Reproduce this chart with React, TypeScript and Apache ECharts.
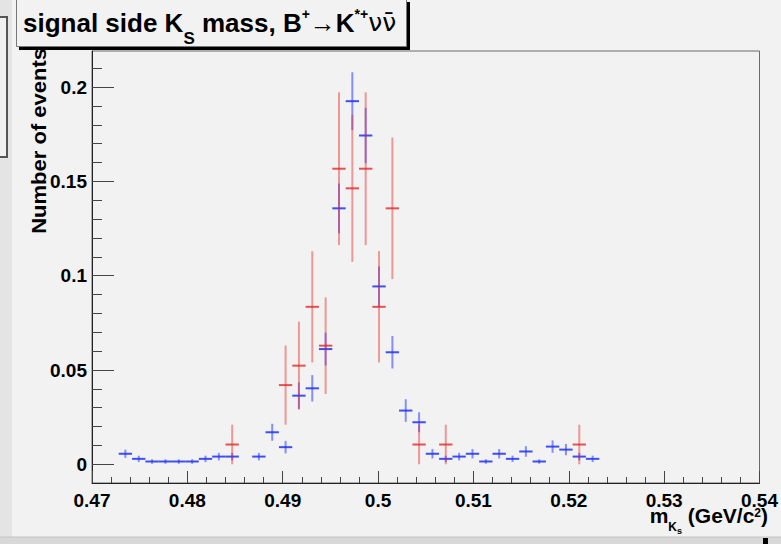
import React, { useEffect, useRef } from "react";
import * as echarts from "echarts";

// ---- data ----
const BIN_WIDTH = 0.0014;
const X_MIN = 0.47;
const X_MAX = 0.54;
const Y_MIN = -0.0099;
const Y_MAX = 0.2191;
const Y_MAJOR = [0, 0.05, 0.1, 0.15, 0.2];
const Y_MINOR = [0.01, 0.02, 0.03, 0.04, 0.06, 0.07, 0.08, 0.09, 0.11, 0.12, 0.13, 0.14, 0.16, 0.17, 0.18, 0.19, 0.21];

const blueX = [
  0.4735, 0.4749, 0.4763, 0.4777, 0.4791, 0.4805, 0.4819, 0.4833, 0.4847,
  0.4875, 0.4889, 0.4903, 0.4917, 0.4931, 0.4945, 0.4959, 0.4973, 0.4987,
  0.5001, 0.5015, 0.5029, 0.5043, 0.5057, 0.5071, 0.5085, 0.5099, 0.5113,
  0.5127, 0.5141, 0.5155, 0.5169, 0.5183, 0.5197, 0.5211, 0.5225,
];
const blueY = [
  0.0056, 0.0029, 0.0015, 0.0015, 0.0015, 0.0015, 0.0029, 0.0041, 0.0041,
  0.0041, 0.017, 0.0091, 0.0364, 0.0403, 0.0611, 0.1357, 0.1925, 0.1743,
  0.0943, 0.0594, 0.0285, 0.0223, 0.0056, 0.0029, 0.0041, 0.0056, 0.0015,
  0.0056, 0.0029, 0.0068, 0.0015, 0.0094, 0.0078, 0.0041, 0.0029,
];
const blueErr = [
  0.0022, 0.0017, 0.0012, 0.0012, 0.0012, 0.0012, 0.0017, 0.002, 0.002,
  0.002, 0.0045, 0.0033, 0.007, 0.007, 0.0087, 0.0132, 0.0153, 0.0147,
  0.0106, 0.0086, 0.006, 0.0053, 0.0025, 0.0017, 0.002, 0.0025, 0.0012,
  0.0025, 0.0017, 0.0028, 0.0012, 0.0033, 0.003, 0.002, 0.0017,
];

const redX = [0.4847, 0.4903, 0.4917, 0.4931, 0.4945, 0.4959, 0.4973, 0.4987, 0.5001, 0.5015, 0.5043, 0.5071, 0.5211];
const redY = [0.0105, 0.042, 0.0523, 0.0835, 0.0629, 0.1567, 0.1463, 0.1567, 0.0835, 0.1357, 0.0105, 0.0105, 0.0105];
const redErr = [0.0105, 0.021, 0.0233, 0.0295, 0.0256, 0.0405, 0.039, 0.0405, 0.0295, 0.0375, 0.0105, 0.0105, 0.0105];

const FONT = "'Liberation Sans', Arial, Helvetica, sans-serif";

function errorBarSeries(name: string, xs: number[], ys: number[], es: number[], vCol: string, hCol: string) {
  return {
    type: "custom",
    name,
    coordinateSystem: "cartesian2d",
    xAxisIndex: 0,
    yAxisIndex: 0,
    encode: { x: 0, y: 1 },
    data: xs.map((x, i) => [x, ys[i], es[i]]),
    renderItem: (_params: any, api: any) => {
      const x = api.value(0);
      const y = api.value(1);
      const e = api.value(2);
      const c = api.coord([x, y]);
      const top = api.coord([x, y + e]);
      const bot = api.coord([x, Math.max(y - e, Y_MIN)]);
      const l = api.coord([x - BIN_WIDTH / 2, y]);
      const r = api.coord([x + BIN_WIDTH / 2, y]);
      return {
        type: "group",
        children: [
          { type: "line", shape: { x1: c[0], y1: top[1], x2: c[0], y2: bot[1] }, style: { stroke: vCol, lineWidth: 2 } },
          { type: "line", shape: { x1: l[0], y1: c[1], x2: r[0], y2: c[1] }, style: { stroke: hCol, lineWidth: 2 } },
        ],
      };
    },
  };
}

export default function App() {
  const ref = useRef<HTMLDivElement>(null);
  useEffect(() => {
    if (!ref.current) return;
    const chart = echarts.init(ref.current, null, { renderer: "svg" });
    const bold = (fontSize: number, extra: any = {}) => ({
      fontSize,
      fontWeight: "bold",
      fontFamily: FONT,
      fill: "#000",
      ...extra,
    });
    chart.setOption({
      animation: false,
      backgroundColor: "#f2f2f2",
      grid: {
        left: 92,
        right: 13,
        top: 51,
        bottom: 61,
        show: true,
        borderColor: "#6a6a6a",
        borderWidth: 1,
        backgroundColor: "transparent",
      },
      xAxis: {
        type: "value",
        min: X_MIN,
        max: X_MAX,
        interval: 0.01,
        axisLine: { show: true, onZero: false, lineStyle: { color: "#222", width: 1 } },
        axisTick: { show: true, inside: true, length: 12, lineStyle: { color: "#444" } },
        minorTick: { show: true, splitNumber: 5, length: 6, lineStyle: { color: "#444" } },
        splitLine: { show: false },
        minorSplitLine: { show: false },
        axisLabel: { color: "#000", fontSize: 19, fontWeight: "bold", fontFamily: FONT, margin: 9, lineHeight: 16 },
      },
      yAxis: [
        {
          type: "value",
          min: Y_MIN,
          max: Y_MAX,
          position: "left",
          axisLine: { show: true, onZero: false, lineStyle: { color: "#222", width: 1 } },
          axisTick: { show: true, inside: true, length: 22, customValues: Y_MAJOR, lineStyle: { color: "#444" } },
          axisLabel: { customValues: Y_MAJOR, color: "#000", fontSize: 19, fontWeight: "bold", fontFamily: FONT, margin: 5 },
          splitLine: { show: false },
        },
        {
          type: "value",
          min: Y_MIN,
          max: Y_MAX,
          position: "left",
          offset: 0,
          axisLine: { show: false },
          axisTick: { show: true, inside: true, length: 10, customValues: Y_MINOR, lineStyle: { color: "#444" } },
          axisLabel: { show: false },
          splitLine: { show: false },
        },
      ],
      series: [
        errorBarSeries("blue", blueX, blueY, blueErr, "rgba(40,60,255,0.55)", "rgba(30,50,245,0.85)"),
        errorBarSeries("red", redX, redY, redErr, "rgba(235,40,40,0.45)", "rgba(225,40,40,0.8)"),
      ],
      graphic: [
        // left strip with the edge of another window
        { type: "rect", z: 0, shape: { x: 0, y: 0, width: 12, height: 544 }, style: { fill: "#e4e4e4" } },
        { type: "rect", z: 1, shape: { x: -4, y: 17, width: 11, height: 140 }, style: { fill: "#f0f0f0", stroke: "#555", lineWidth: 2 } },
        // bottom band
        { type: "rect", z: 0, shape: { x: 0, y: 537, width: 781, height: 7 }, style: { fill: "#d8d8d8" } },
        { type: "line", z: 1, shape: { x1: 0, y1: 537, x2: 781, y2: 537 }, style: { stroke: "#c4c4c4", lineWidth: 1 } },
        { type: "rect", z: 2, shape: { x: 763, y: 538, width: 5, height: 6 }, style: { fill: "#000" } },
        // y axis title
        {
          type: "text",
          z: 5,
          x: 39,
          y: 48,
          rotation: Math.PI / 2,
          scaleX: 1.1,
          style: {
            text: "Number of events",
            ...bold(20),
            align: "right",
            verticalAlign: "middle",
          },
        },
        // x axis title
        {
          type: "text",
          z: 5,
          x: 768,
          y: 507.6,
          style: {
            text: "{m|m}{k|K}{s|s}{m| (GeV/c}{p|2}{m|)}",
            align: "right",
            verticalAlign: "top",
            fill: "#000",
            rich: {
              m: bold(21, { lineHeight: 16 }),
              k: bold(12, { lineHeight: 10, verticalAlign: "top", padding: [13, 0, 0, 0] }),
              s: bold(9, { lineHeight: 10, verticalAlign: "top", padding: [19, 0, 0, 0] }),
              p: bold(12, { lineHeight: 10, verticalAlign: "middle", padding: [0, 0, 6, 0] }),
            },
          },
        },
        // title box with shadow
        { type: "rect", z: 10, shape: { x: 19, y: 2, width: 391, height: 48 }, style: { fill: "#000" } },
        { type: "rect", z: 11, shape: { x: 16.5, y: -1, width: 390, height: 47.5 }, style: { fill: "#f2f2f2", stroke: "#777", lineWidth: 1 } },
        {
          type: "text",
          z: 12,
          x: 23,
          y: -1.4,
          style: {
            text: "{m|signal side K}{sub|S}{m| mass, B}{sup|+}{m|→K}{sup|*+}{nu|νν̄}",
            align: "left",
            verticalAlign: "top",
            fill: "#000",
            rich: {
              m: bold(26, { lineHeight: 48 }),
              sub: bold(17, { lineHeight: 10, verticalAlign: "top", padding: [31, 0, 0, 0] }),
              sup: bold(14, { lineHeight: 10, verticalAlign: "top", padding: [8, 0, 0, 0] }),
              nu: { fontSize: 25, fontWeight: "normal", fontFamily: "'DejaVu Sans', sans-serif", lineHeight: 48, fill: "#000" },
            },
          },
        },
      ],
    });
    return () => chart.dispose();
  }, []);
  return <div ref={ref} style={{ position: "absolute", left: 0, top: 0, width: 781, height: 544 }} />;
}
